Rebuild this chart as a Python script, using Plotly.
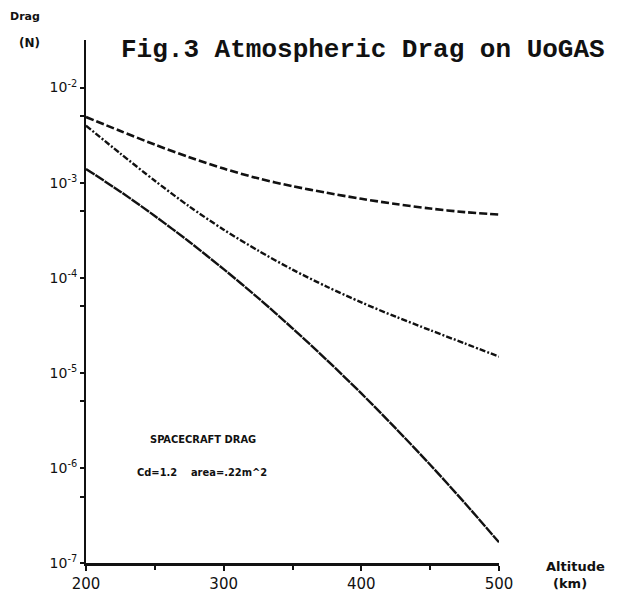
import plotly.graph_objects as go

# Altitude grid (km)
altitude_km = [200, 225, 250, 275, 300, 325, 350, 375, 400, 425, 450, 475, 500]

# Drag force (N) for the three atmosphere cases
drag_high = [4.90e-3, 3.49e-3, 2.51e-3, 1.85e-3, 1.405e-3, 1.109e-3, 9.17e-4,
             7.81e-4, 6.76e-4, 5.96e-4, 5.34e-4, 4.90e-4, 4.62e-4]
drag_mid = [3.98e-3, 2.02e-3, 1.047e-3, 5.62e-4, 3.20e-4, 1.93e-4, 1.216e-4,
            8.04e-5, 5.50e-5, 3.89e-5, 2.81e-5, 2.04e-5, 1.48e-5]
drag_low = [1.393e-3, 8.04e-4, 4.46e-4, 2.39e-4, 1.23e-4, 6.14e-5, 2.94e-5,
            1.36e-5, 6.07e-6, 2.60e-6, 1.08e-6, 4.30e-7, 1.65e-7]

# Axis ticks
y_major = [1e-7, 1e-6, 1e-5, 1e-4, 1e-3, 1e-2]
y_major_text = ["10<sup>-7</sup>", "10<sup>-6</sup>", "10<sup>-5</sup>",
                "10<sup>-4</sup>", "10<sup>-3</sup>", "10<sup>-2</sup>"]
y_minor = [5e-7, 5e-6, 5e-5, 5e-4, 5e-3]
x_major = [200, 300, 400, 500]
x_minor = [250, 350, 450]

INK = "#111111"
HAND = "DejaVu Sans, Verdana, sans-serif"
NARROW = "Liberation Sans Narrow, DejaVu Sans Condensed, Arial Narrow, sans-serif"

fig = go.Figure()
fig.add_trace(go.Scatter(x=altitude_km, y=drag_high, mode="lines",
                         line=dict(color=INK, width=2.6, dash="8px,3px", shape="spline", smoothing=0.8)))
fig.add_trace(go.Scatter(x=altitude_km, y=drag_mid, mode="lines",
                         line=dict(color=INK, width=2.4, dash="6px,2px,2px,2px", shape="spline", smoothing=0.8)))
fig.add_trace(go.Scatter(x=altitude_km, y=drag_low, mode="lines",
                         line=dict(color=INK, width=2.4, dash="10px,1px", shape="spline", smoothing=0.8)))

fig.update_layout(
    width=617, height=605,
    margin=dict(l=86, r=118, t=40, b=32),
    paper_bgcolor="white", plot_bgcolor="white",
    showlegend=False,
    font=dict(family=HAND, color=INK),
)

fig.update_xaxes(
    range=[200, 500], showgrid=False, zeroline=False,
    showline=True, linecolor=INK, linewidth=3,
    tickmode="array", tickvals=x_major, ticktext=[str(v) for v in x_major],
    ticks="outside", ticklen=5, tickwidth=1.5, tickcolor=INK,
    tickfont=dict(family=HAND, size=15, color=INK),
    minor=dict(tickvals=x_minor, ticks="outside", ticklen=4, tickwidth=1.5, tickcolor=INK),
)
fig.update_yaxes(
    type="log", range=[-7, -1.5], showgrid=False, zeroline=False,
    showline=True, linecolor=INK, linewidth=2,
    tickmode="array", tickvals=y_major, ticktext=y_major_text,
    ticks="outside", ticklen=4, tickwidth=2, tickcolor=INK,
    tickfont=dict(family=HAND, size=14, color=INK),
    minor=dict(tickvals=y_minor, ticks="outside", ticklen=4, tickwidth=2, tickcolor=INK),
)

# Title in typewriter face
fig.add_annotation(text="<b>Fig.3 Atmospheric Drag on UoGAS</b>",
                   xref="paper", yref="paper", x=0.671, y=0.981,
                   xanchor="center", yanchor="middle", showarrow=False,
                   font=dict(family="Courier New, Liberation Mono, monospace", size=26, color=INK))

# Axis captions
fig.add_annotation(text="<b>Drag</b>", xref="paper", yref="paper", x=-0.148, y=1.045,
                   xanchor="center", yanchor="middle", showarrow=False,
                   font=dict(family=HAND, size=11, color=INK))
fig.add_annotation(text="<b>(N)</b>", xref="paper", yref="paper", x=-0.136, y=0.994,
                   xanchor="center", yanchor="middle", showarrow=False,
                   font=dict(family=HAND, size=12, color=INK))
fig.add_annotation(text="<b>Altitude</b>", xref="paper", yref="paper", x=1.186, y=-0.0075,
                   xanchor="center", yanchor="middle", showarrow=False,
                   font=dict(family=HAND, size=13, color=INK))
fig.add_annotation(text="<b>(km)</b>", xref="paper", yref="paper", x=1.172, y=-0.039,
                   xanchor="center", yanchor="middle", showarrow=False,
                   font=dict(family=HAND, size=13, color=INK))

# Spacecraft parameters block
fig.add_annotation(text="<b>SPACECRAFT DRAG</b>", xref="x", yref="y", x=285, y=-5.70,
                   xanchor="center", yanchor="middle", showarrow=False,
                   font=dict(family=NARROW, size=11, color=INK))
fig.add_annotation(text="<b>Cd=1.2    area=.22m^2</b>", xref="x", yref="y", x=284, y=-6.05,
                   xanchor="center", yanchor="middle", showarrow=False,
                   font=dict(family=NARROW, size=11, color=INK))

fig.write_html("out.html")
